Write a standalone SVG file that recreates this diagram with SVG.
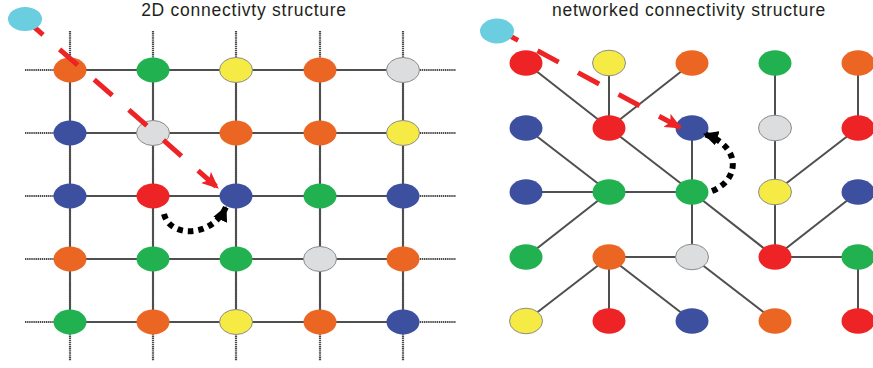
<svg xmlns="http://www.w3.org/2000/svg" width="873" height="368" viewBox="0 0 873 368">
<defs>
<style>
.t{font-family:"Liberation Sans",Arial,sans-serif;font-size:17.5px;letter-spacing:0.75px;fill:#231f20;text-anchor:middle}
.g{stroke:#4f4f4f;stroke-width:2;fill:none}
.d{stroke:#4a4a4a;stroke-width:2.2;stroke-dasharray:1.4 0.7;fill:none}
.e{stroke:#4f4f4f;stroke-width:2;fill:none}
.o{fill:#ec6623}
.gr{fill:#22b150}
.y{fill:#f6eb45;stroke:#8c8c8c;stroke-width:1}
.l{fill:#dcddde;stroke:#8c8c8c;stroke-width:1}
.b{fill:#3d50a0}
.r{fill:#ee2325}
.c{fill:#6acde0}
.ra{stroke:#ee2325;stroke-width:5;stroke-dasharray:24 22;fill:none}
.ba{stroke:#000;stroke-width:6;stroke-dasharray:5.5 5;fill:none}
</style>
<marker id="redHead" markerUnits="userSpaceOnUse" viewBox="0 0 17 15" refX="16" refY="7.5" markerWidth="17" markerHeight="15" orient="auto">
<path d="M0,0 L17,7.5 L0,15 L4,7.5 Z" fill="#ee2325"/>
</marker>
<marker id="blackHead" markerUnits="userSpaceOnUse" viewBox="0 0 15 15" refX="14" refY="7.5" markerWidth="15" markerHeight="15" orient="auto">
<path d="M0,0 L15,7.5 L0,15 Z" fill="#000"/>
</marker>
</defs>
<rect width="873" height="368" fill="#fff"/>
<text class="t" x="244" y="16">2D connectivty structure</text>
<text class="t" x="689" y="16">networked connectivity structure</text>
<g id="connectors">
<g id="grid-dotted">
<line class="d" x1="25" y1="70" x2="456" y2="70"/>
<line class="d" x1="25" y1="133" x2="456" y2="133"/>
<line class="d" x1="25" y1="196" x2="456" y2="196"/>
<line class="d" x1="25" y1="259" x2="456" y2="259"/>
<line class="d" x1="25" y1="322" x2="456" y2="322"/>
<line class="d" x1="70" y1="31" x2="70" y2="361"/>
<line class="d" x1="153" y1="31" x2="153" y2="361"/>
<line class="d" x1="236" y1="31" x2="236" y2="361"/>
<line class="d" x1="320" y1="31" x2="320" y2="361"/>
<line class="d" x1="403" y1="31" x2="403" y2="361"/>
</g>
<g id="grid-solid">
<line class="g" x1="70" y1="70" x2="403" y2="70"/>
<line class="g" x1="70" y1="133" x2="403" y2="133"/>
<line class="g" x1="70" y1="196" x2="403" y2="196"/>
<line class="g" x1="70" y1="259" x2="403" y2="259"/>
<line class="g" x1="70" y1="322" x2="403" y2="322"/>
<line class="g" x1="70" y1="70" x2="70" y2="322"/>
<line class="g" x1="153" y1="70" x2="153" y2="322"/>
<line class="g" x1="236" y1="70" x2="236" y2="322"/>
<line class="g" x1="320" y1="70" x2="320" y2="322"/>
<line class="g" x1="403" y1="70" x2="403" y2="322"/>
</g>
<g id="network-edges">
<line class="e" x1="526" y1="63" x2="609" y2="128"/>
<line class="e" x1="609" y1="63" x2="609" y2="128"/>
<line class="e" x1="692" y1="63" x2="609" y2="128"/>
<line class="e" x1="775" y1="63" x2="775" y2="128"/>
<line class="e" x1="858" y1="63" x2="858" y2="128"/>
<line class="e" x1="526" y1="128" x2="609" y2="192"/>
<line class="e" x1="609" y1="128" x2="692" y2="192"/>
<line class="e" x1="692" y1="128" x2="692" y2="192"/>
<line class="e" x1="775" y1="128" x2="775" y2="192"/>
<line class="e" x1="858" y1="128" x2="775" y2="192"/>
<line class="e" x1="526" y1="192" x2="609" y2="192"/>
<line class="e" x1="609" y1="192" x2="692" y2="192"/>
<line class="e" x1="609" y1="192" x2="526" y2="257"/>
<line class="e" x1="692" y1="192" x2="692" y2="257"/>
<line class="e" x1="692" y1="192" x2="775" y2="257"/>
<line class="e" x1="775" y1="192" x2="775" y2="257"/>
<line class="e" x1="858" y1="192" x2="775" y2="257"/>
<line class="e" x1="609" y1="257" x2="692" y2="257"/>
<line class="e" x1="775" y1="257" x2="858" y2="257"/>
<line class="e" x1="609" y1="257" x2="526" y2="321"/>
<line class="e" x1="609" y1="257" x2="609" y2="321"/>
<line class="e" x1="609" y1="257" x2="692" y2="321"/>
<line class="e" x1="692" y1="257" x2="775" y2="321"/>
<line class="e" x1="858" y1="257" x2="858" y2="321"/>
</g>
</g>
<g id="nodes-left">
<g id="L11"><ellipse class="o" cx="70" cy="70" rx="16.5" ry="12.5"/></g>
<g id="L12"><ellipse class="gr" cx="153" cy="70" rx="16.5" ry="12.5"/></g>
<g id="L13"><ellipse class="y" cx="236" cy="70" rx="16.5" ry="12.5"/></g>
<g id="L14"><ellipse class="o" cx="320" cy="70" rx="16.5" ry="12.5"/></g>
<g id="L15"><ellipse class="l" cx="403" cy="70" rx="16.5" ry="12.5"/></g>
<g id="L21"><ellipse class="b" cx="70" cy="133" rx="16.5" ry="12.5"/></g>
<g id="L22"><ellipse class="l" cx="153" cy="133" rx="16.5" ry="12.5"/></g>
<g id="L23"><ellipse class="o" cx="236" cy="133" rx="16.5" ry="12.5"/></g>
<g id="L24"><ellipse class="o" cx="320" cy="133" rx="16.5" ry="12.5"/></g>
<g id="L25"><ellipse class="y" cx="403" cy="133" rx="16.5" ry="12.5"/></g>
<g id="L31"><ellipse class="b" cx="70" cy="196" rx="16.5" ry="12.5"/></g>
<g id="L32"><ellipse class="r" cx="153" cy="196" rx="16.5" ry="12.5"/></g>
<g id="L33"><ellipse class="b" cx="236" cy="196" rx="16.5" ry="12.5"/></g>
<g id="L34"><ellipse class="gr" cx="320" cy="196" rx="16.5" ry="12.5"/></g>
<g id="L35"><ellipse class="b" cx="403" cy="196" rx="16.5" ry="12.5"/></g>
<g id="L41"><ellipse class="o" cx="70" cy="259" rx="16.5" ry="12.5"/></g>
<g id="L42"><ellipse class="gr" cx="153" cy="259" rx="16.5" ry="12.5"/></g>
<g id="L43"><ellipse class="gr" cx="236" cy="259" rx="16.5" ry="12.5"/></g>
<g id="L44"><ellipse class="l" cx="320" cy="259" rx="16.5" ry="12.5"/></g>
<g id="L45"><ellipse class="o" cx="403" cy="259" rx="16.5" ry="12.5"/></g>
<g id="L51"><ellipse class="gr" cx="70" cy="322" rx="16.5" ry="12.5"/></g>
<g id="L52"><ellipse class="o" cx="153" cy="322" rx="16.5" ry="12.5"/></g>
<g id="L53"><ellipse class="y" cx="236" cy="322" rx="16.5" ry="12.5"/></g>
<g id="L54"><ellipse class="o" cx="320" cy="322" rx="16.5" ry="12.5"/></g>
<g id="L55"><ellipse class="b" cx="403" cy="322" rx="16.5" ry="12.5"/></g>
</g>
<g id="nodes-right">
<g id="R11"><ellipse class="r" cx="526" cy="63" rx="16.5" ry="12.8"/></g>
<g id="R12"><ellipse class="y" cx="609" cy="63" rx="16.5" ry="12.8"/></g>
<g id="R13"><ellipse class="o" cx="692" cy="63" rx="16.5" ry="12.8"/></g>
<g id="R14"><ellipse class="gr" cx="775" cy="63" rx="16.5" ry="12.8"/></g>
<g id="R15"><ellipse class="o" cx="858" cy="63" rx="16.5" ry="12.8"/></g>
<g id="R21"><ellipse class="b" cx="526" cy="128" rx="16.5" ry="12.8"/></g>
<g id="R22"><ellipse class="r" cx="609" cy="128" rx="16.5" ry="12.8"/></g>
<g id="R23"><ellipse class="b" cx="692" cy="128" rx="16.5" ry="12.8"/></g>
<g id="R24"><ellipse class="l" cx="775" cy="128" rx="16.5" ry="12.8"/></g>
<g id="R25"><ellipse class="r" cx="858" cy="128" rx="16.5" ry="12.8"/></g>
<g id="R31"><ellipse class="b" cx="526" cy="192" rx="16.5" ry="12.8"/></g>
<g id="R32"><ellipse class="gr" cx="609" cy="192" rx="16.5" ry="12.8"/></g>
<g id="R33"><ellipse class="gr" cx="692" cy="192" rx="16.5" ry="12.8"/></g>
<g id="R34"><ellipse class="y" cx="775" cy="192" rx="16.5" ry="12.8"/></g>
<g id="R35"><ellipse class="b" cx="858" cy="192" rx="16.5" ry="12.8"/></g>
<g id="R41"><ellipse class="gr" cx="526" cy="257" rx="16.5" ry="12.8"/></g>
<g id="R42"><ellipse class="o" cx="609" cy="257" rx="16.5" ry="12.8"/></g>
<g id="R43"><ellipse class="l" cx="692" cy="257" rx="16.5" ry="12.8"/></g>
<g id="R44"><ellipse class="r" cx="775" cy="257" rx="16.5" ry="12.8"/></g>
<g id="R45"><ellipse class="gr" cx="858" cy="257" rx="16.5" ry="12.8"/></g>
<g id="R51"><ellipse class="y" cx="526" cy="321" rx="16.5" ry="12.8"/></g>
<g id="R52"><ellipse class="r" cx="609" cy="321" rx="16.5" ry="12.8"/></g>
<g id="R53"><ellipse class="b" cx="692" cy="321" rx="16.5" ry="12.8"/></g>
<g id="R54"><ellipse class="o" cx="775" cy="321" rx="16.5" ry="12.8"/></g>
<g id="R55"><ellipse class="r" cx="858" cy="321" rx="16.5" ry="12.8"/></g>
</g>
<g id="arrows">
<path class="ra" d="M25,19 L218,188" marker-end="url(#redHead)"/>
<path class="ra" d="M497,29 L681,128" marker-end="url(#redHead)"/>
<path class="ba" d="M164,214 C170,238 212,238 226,207" marker-end="url(#blackHead)"/>
<path class="ba" d="M712,191 C740,180 742,146 704,134" marker-end="url(#blackHead)"/>
</g>
<g id="walker-left"><ellipse class="c" cx="25" cy="19" rx="17" ry="12"/></g>
<g id="walker-right"><ellipse class="c" cx="497" cy="31" rx="17" ry="12.5"/></g>
</svg>
